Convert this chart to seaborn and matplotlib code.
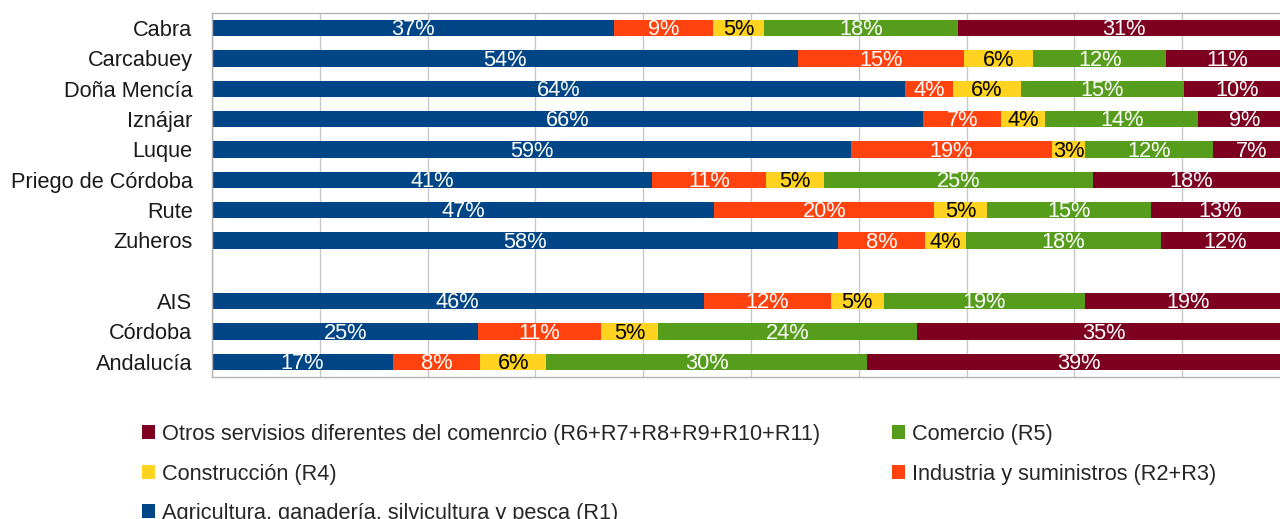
import numpy as np
import pandas as pd
import matplotlib
matplotlib.use("Agg")
import matplotlib.pyplot as plt
import seaborn as sns
from matplotlib.patches import Patch

# data (percent of each row)
places = ["Cabra", "Carcabuey", "Doña Mencía", "Iznájar", "Luque", "Priego de Córdoba",
          "Rute", "Zuheros", "AIS", "Córdoba", "Andalucía"]
agricultura = [37.3, 54.4, 64.3, 66.0, 59.3, 40.8, 46.6, 58.1, 45.6, 24.7, 16.8]
industria = [9.2, 15.4, 4.4, 7.2, 18.6, 10.6, 20.4, 8.0, 11.8, 11.4, 8.1]
construccion = [4.7, 6.4, 6.3, 4.1, 3.1, 5.4, 4.9, 3.8, 4.9, 5.3, 6.1]
comercio = [18.0, 12.3, 15.2, 14.2, 11.9, 24.9, 15.2, 18.1, 18.7, 24.0, 29.8]
otros = [30.8, 11.4, 9.8, 8.6, 7.1, 18.3, 12.9, 12.0, 19.0, 34.6, 39.2]

series_names = ["Agricultura, ganadería, silvicultura y pesca (R1)",
                "Industria y suministros (R2+R3)",
                "Construcción (R4)",
                "Comercio (R5)",
                "Otros servisios diferentes del comenrcio (R6+R7+R8+R9+R10+R11)"]
colors = ["#004586", "#ff420e", "#ffd320", "#579d1c", "#7e0021"]
text_colors = ["white", "white", "black", "white", "white"]

# empty slot between the municipalities and the reference areas
order = places[:8] + [" "] + places[8:]

sns.set_style("white")
plt.rcParams["font.family"] = ["Liberation Sans", "DejaVu Sans"]
fs = 15.7

df = pd.DataFrame({"lugar": places, "s0": agricultura, "s1": industria,
                   "s2": construccion, "s3": comercio, "s4": otros})
vals = df[["s0", "s1", "s2", "s3", "s4"]]
cum = vals.cumsum(axis=1)
for k in range(5):
    df["c%d" % k] = cum.iloc[:, k]

fig = plt.figure(figsize=(12.8, 5.19), dpi=100)
ax = fig.add_axes([212 / 1280, 1 - 377 / 519, 1078 / 1280, 364 / 519])

# stacked bars: draw cumulative totals from the right-most segment back
for k in range(4, -1, -1):
    sns.barplot(data=df, x="c%d" % k, y="lugar", order=order, orient="h",
                color=colors[k], saturation=1, width=0.53, errorbar=None,
                linewidth=0, ax=ax, zorder=2)

# value labels
for i, name in enumerate(places):
    ypos = order.index(name)
    left = 0
    for k in range(5):
        v = vals.iloc[i, k]
        ax.text(left + v / 2, ypos + 0.06, "%.0f%%" % v, ha="center", va="center",
                color=text_colors[k], fontsize=fs, zorder=3)
        left += v

ax.set_xlim(0, 100)
ax.set_ylim(len(order) - 0.5, -0.5)
ax.set_xticks(np.arange(0, 101, 10))
ax.set_xticklabels([])
ax.tick_params(axis="x", length=0)
ax.xaxis.grid(True, color="#c8c8c8", linewidth=1)
ax.yaxis.grid(False)
ax.set_axisbelow(True)

ax.set_yticks(np.arange(len(order)))
ax.set_yticklabels(order, fontsize=fs, color="#1a1a1a")
ax.set_yticks(np.arange(-0.5, len(order), 1), minor=True)
ax.tick_params(axis="y", which="major", length=0, pad=14)
ax.tick_params(axis="y", which="minor", length=11, color="#b3b3b3", width=1)
ax.set_xlabel("")
ax.set_ylabel("")
for sp in ax.spines.values():
    sp.set_visible(True)
    sp.set_color("#b3b3b3")
    sp.set_linewidth(1)

# legend: row-major visual order, two columns
leg_order = [4, 2, 0, 3, 1]
handles = [Patch(facecolor=colors[k], edgecolor="none", label=series_names[k]) for k in leg_order]
fig.legend(handles=handles, loc="upper left", bbox_to_anchor=(142 / 1280, 1 - 424 / 519),
           ncol=2, frameon=False, fontsize=fs, handlelength=0.6, handleheight=0.6,
           handletextpad=0.32, columnspacing=3.3, labelspacing=0.85, borderpad=0,
           borderaxespad=0)

fig.savefig("out.png", dpi=100)
